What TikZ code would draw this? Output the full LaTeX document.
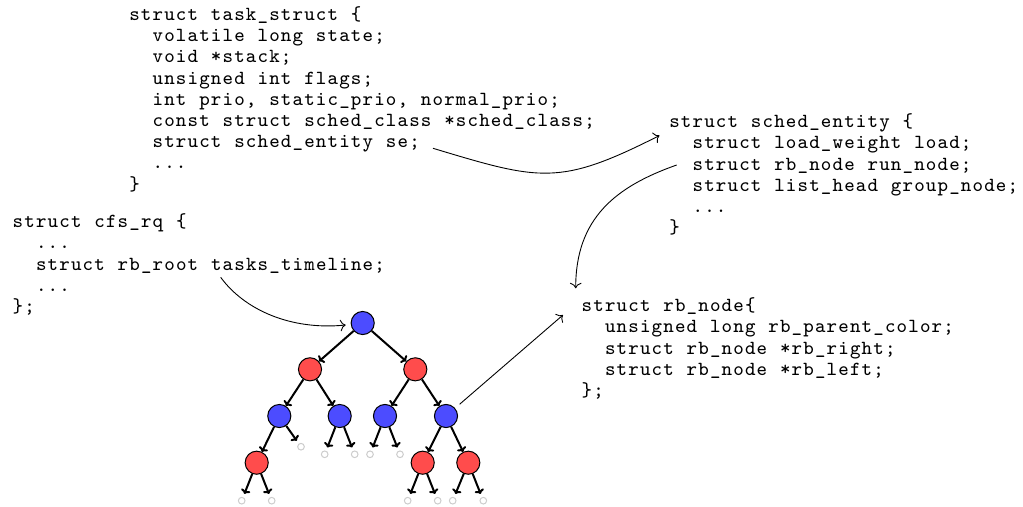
\documentclass[tikz,border=0pt]{standalone}
\usetikzlibrary{arrows.meta}
\ExplSyntaxOn
\NewDocumentCommand\codeline{m}{
  \str_map_inline:nn {#1}
    {
      \makebox[5.25pt][c]{
        \str_case:nnF {##1}
          { {<}{\symbol{123}} {>}{\symbol{125}} }
          {##1}
      }
    }
}
\ExplSyntaxOff
\begin{document}
\begin{tikzpicture}[x=0.45pt,y=-0.45pt,
  code/.style={font=\fontsize{9}{9.54}\selectfont\ttfamily, inner sep=0pt, anchor=base west},
  rbnode/.style={circle, draw=black, line width=0.45pt, inner sep=0pt, minimum size=10.4pt},
  rednode/.style={rbnode, fill=red!70},
  bluenode/.style={rbnode, fill=blue!70},
  leaf/.style={circle, draw=gray!40, line width=0.45pt, inner sep=0pt, minimum size=3pt, outer sep=1.8pt},
  edge/.style={-{To[length=2pt,width=4.4pt]}, line width=0.9pt},
  link/.style={->, line width=0.4pt}]
\useasboundingbox (0,0) rectangle (1023,506);

% task_struct
\node[code] (ts1) at (128.3,20.5) {\codeline{struct task_struct <}};
\node[code] (ts2) at (151.6,41.7) {\codeline{volatile long state;}};
\node[code] (ts3) at (151.6,62.9) {\codeline{void *stack;}};
\node[code] (ts4) at (151.6,84.1) {\codeline{unsigned int flags;}};
\node[code] (ts5) at (151.6,105.3) {\codeline{int prio, static_prio, normal_prio;}};
\node[code] (ts6) at (151.6,126.5) {\codeline{const struct sched_class *sched_class;}};
\node[code] (ts7) at (151.6,147.7) {\codeline{struct sched_entity se;}};
\node[code] (ts8) at (151.6,168.9) {\codeline{...}};
\node[code] (ts9) at (128.3,190.1) {\codeline{>}};

% cfs_rq
\node[code] (cf1) at (11.7,227.7) {\codeline{struct cfs_rq <}};
\node[code] (cf2) at (35.0,248.9) {\codeline{...}};
\node[code] (cf3) at (35.0,270.1) {\codeline{struct rb_root tasks_timeline;}};
\node[code] (cf4) at (35.0,291.3) {\codeline{...}};
\node[code] (cf5) at (11.7,312.5) {\codeline{>;}};

% sched_entity
\node[code] (se1) at (668.3,127.7) {\codeline{struct sched_entity <}};
\node[code] (se2) at (691.6,148.9) {\codeline{struct load_weight load;}};
\node[code] (se3) at (691.6,170.1) {\codeline{struct rb_node run_node;}};
\node[code] (se4) at (691.6,191.3) {\codeline{struct list_head group_node;}};
\node[code] (se5) at (691.6,212.5) {\codeline{...}};
\node[code] (se6) at (668.3,233.7) {\codeline{>}};

% rb_node
\node[code] (rb1) at (580.7,311.7) {\codeline{struct rb_node<}};
\node[code] (rb2) at (604.0,332.9) {\codeline{unsigned long rb_parent_color;}};
\node[code] (rb3) at (604.0,354.1) {\codeline{struct rb_node *rb_right;}};
\node[code] (rb4) at (604.0,375.3) {\codeline{struct rb_node *rb_left;}};
\node[code] (rb5) at (580.7,396.5) {\codeline{>;}};

% tree
\node[bluenode] (root) at (362.7,323) {};
\node[rednode] (r1) at (310,369.3) {};
\node[rednode] (r2) at (415.3,369.3) {};
\node[bluenode] (b1) at (279.3,416) {};
\node[bluenode] (b2) at (339.7,416) {};
\node[bluenode] (b3) at (385,416) {};
\node[bluenode] (b4) at (446,416) {};
\node[rednode] (r3) at (256.7,462.7) {};
\node[rednode] (r4) at (422.7,462.7) {};
\node[rednode] (r5) at (468.3,462.7) {};
\node[leaf] (la) at (301,446.7) {};
\node[leaf] (lb) at (324.7,454.3) {};
\node[leaf] (lc) at (354.7,454.3) {};
\node[leaf] (ld) at (370,454.3) {};
\node[leaf] (le) at (400,454.3) {};
\node[leaf] (lf) at (241.7,500.7) {};
\node[leaf] (lg) at (271.7,500.7) {};
\node[leaf] (lh) at (407.7,500.7) {};
\node[leaf] (li) at (437.7,500.7) {};
\node[leaf] (lj) at (452.7,500.7) {};
\node[leaf] (lk) at (483.3,500.7) {};

\draw[edge] (root) -- (r1);
\draw[edge] (root) -- (r2);
\draw[edge] (r1) -- (b1);
\draw[edge] (r1) -- (b2);
\draw[edge] (r2) -- (b3);
\draw[edge] (r2) -- (b4);
\draw[edge] (b1) -- (r3);
\draw[edge] (b1) -- (la);
\draw[edge] (b2) -- (lb);
\draw[edge] (b2) -- (lc);
\draw[edge] (b3) -- (ld);
\draw[edge] (b3) -- (le);
\draw[edge] (b4) -- (r4);
\draw[edge] (b4) -- (r5);
\draw[edge] (r3) -- (lf);
\draw[edge] (r3) -- (lg);
\draw[edge] (r4) -- (lh);
\draw[edge] (r4) -- (li);
\draw[edge] (r5) -- (lj);
\draw[edge] (r5) -- (lk);

% connectors
\coordinate (seStart) at (433,148.3);
\coordinate (seTip) at (659.5,135.5);
\draw[link] (seStart) .. controls (540.6,180.7) and (559.3,186.2) .. (seTip);

\coordinate (rnStart) at (676.7,165);
\coordinate (rnTip) at (575.7,288.3);
\draw[link] (rnStart) .. controls (615.6,186.5) and (575.7,218.3) .. (rnTip);

\coordinate (ttStart) at (220.7,277.3);
\coordinate (ttTip) at (345.7,325);
\draw[link] (ttStart) .. controls (244.3,309.7) and (290.7,330.5) .. (ttTip);

\coordinate (rbTip) at (563,315);
\draw[link, shorten <=2.7pt] (b4) -- (rbTip);
\end{tikzpicture}
\end{document}
